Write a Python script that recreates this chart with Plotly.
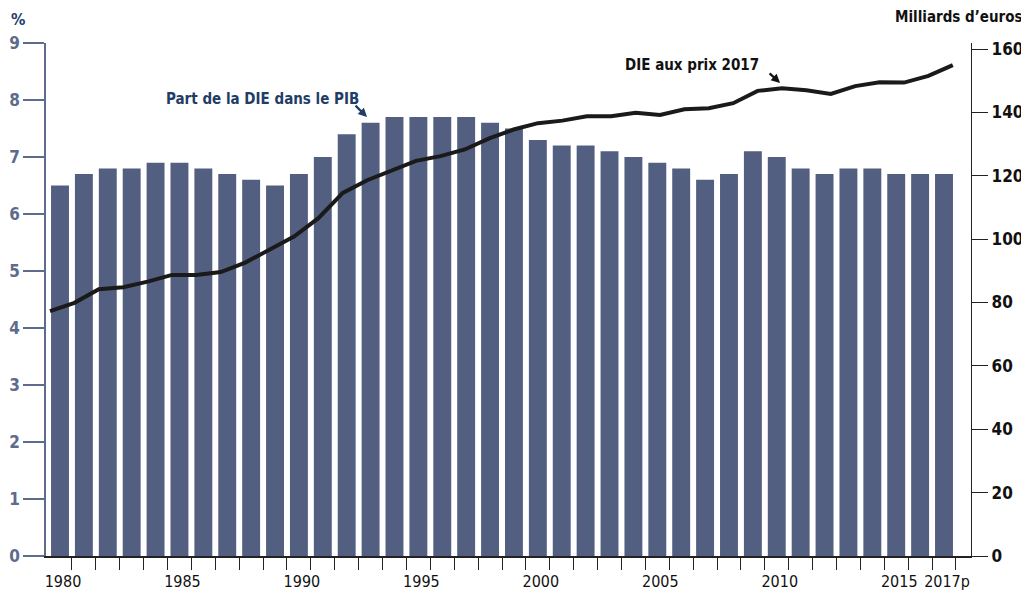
import plotly.graph_objects as go

years = list(range(1980, 2018))
part_pib = [6.5, 6.7, 6.8, 6.8, 6.9, 6.9, 6.8, 6.7, 6.6, 6.5,
            6.7, 7.0, 7.4, 7.6, 7.7, 7.7, 7.7, 7.7, 7.6, 7.5,
            7.3, 7.2, 7.2, 7.1, 7.0, 6.9, 6.8, 6.6, 6.7, 7.1,
            7.0, 6.8, 6.7, 6.8, 6.8, 6.7, 6.7, 6.7]
die_prix_2017 = [77.3, 79.9, 84.2, 84.8, 86.6, 88.7, 88.7, 89.6, 92.6, 96.6,
                 100.8, 106.6, 114.6, 118.6, 121.8, 124.7, 126.2, 128.3, 131.8, 134.6,
                 136.6, 137.4, 138.8, 138.8, 139.9, 139.2, 141.0, 141.3, 142.9, 146.8,
                 147.6, 147.0, 145.8, 148.3, 149.5, 149.4, 151.5, 154.9]
x_tickvals = [1980, 1985, 1990, 1995, 2000, 2005, 2010, 2015, 2017]
x_ticktext = ["1980", "1985", "1990", "1995", "2000", "2005", "2010", "2015", "2017p"]
left_ticks = list(range(0, 10))
right_ticks = list(range(0, 161, 20))

FONT = "DejaVu Sans Condensed, Liberation Sans Narrow, Roboto, sans-serif"
BAR = "#535f80"
SLATE = "#5d6b8c"
NAVY = "#1f3d66"

fig = go.Figure()
fig.add_trace(go.Bar(x=years, y=part_pib, marker=dict(color=BAR, line=dict(width=0)),
                     width=0.75, xaxis="x", yaxis="y", name="Part de la DIE dans le PIB"))
fig.add_trace(go.Scatter(x=years, y=die_prix_2017, mode="lines",
                         line=dict(color="#1a1a1a", width=4),
                         xaxis="x2", yaxis="y2", name="DIE aux prix 2017"))

# page body has an 8px default margin: figure is sized/placed to compensate
fig.update_layout(
    width=1021, height=583,
    margin=dict(l=38, r=58, t=35, b=35),
    paper_bgcolor="white", plot_bgcolor="white",
    showlegend=False,
    font=dict(family=FONT, size=16, color="black"),
    xaxis=dict(range=[1979.414, 2018.13], tickmode="array", tickvals=x_tickvals,
               ticktext=x_ticktext, ticks="", showgrid=False, zeroline=False,
               showline=True, linecolor="#222222", linewidth=1.5, tickangle=0,
               automargin=False,
               tickfont=dict(family=FONT, size=16, color="#111111"),
               ticklabelstandoff=10, ticklabelshift=3,
               minor=dict(tickmode="array", tickvals=[y + 0.5 for y in years],
                          ticks="outside", ticklen=12, tickcolor="#222222", tickwidth=1.2)),
    xaxis2=dict(range=[1979.836, 2017.746], overlaying="x", anchor="y", visible=False,
                showgrid=False, zeroline=False, automargin=False),
    yaxis=dict(range=[0, 9], tickmode="array", tickvals=left_ticks, ticks="outside",
               ticklen=21, tickcolor=SLATE, tickwidth=1.5, showline=True,
               linecolor=SLATE, linewidth=1.5, showgrid=False, zeroline=False,
               automargin=False,
               tickfont=dict(family=FONT, size=17, color=SLATE, weight="bold")),
    yaxis2=dict(range=[0, 161.9], tickmode="array", tickvals=right_ticks, overlaying="y",
                anchor="x", side="right", ticks="outside", ticklen=16, tickcolor="#222222",
                tickwidth=1.2, showline=True, linecolor="#222222", linewidth=1.2,
                showgrid=False, zeroline=False, automargin=False,
                tickfont=dict(family=FONT, size=17, color="#111111", weight="bold")),
    bargap=0.25,
)

annotations = [
    dict(text="%", xref="paper", yref="paper", x=(18 - 46) / 925, y=(556 - 19) / 513,
         showarrow=False, xanchor="center", yanchor="middle",
         font=dict(family=FONT, size=16, color=NAVY, weight="bold")),
    dict(text="Milliards d’euros", xref="paper", yref="paper", x=(1025 - 46) / 925,
         y=(556 - 17) / 513, showarrow=False, xanchor="right", yanchor="middle",
         font=dict(family=FONT, size=15, color="#111111", weight="bold")),
    dict(text="Part de la DIE dans le PIB", xref="x", yref="y", x=1992.6, y=8.02,
         showarrow=False, xanchor="right", yanchor="middle",
         font=dict(family=FONT, size=15, color=NAVY, weight="bold")),
    dict(text="", xref="x", yref="y", x=1992.85, y=7.7, ax=-13, ay=-13,
         showarrow=True, arrowhead=2, arrowsize=0.8, arrowwidth=2.2, arrowcolor=NAVY,
         standoff=0),
    dict(text="DIE aux prix 2017", xref="x", yref="y", x=2009.35, y=(556 - 65) / 57,
         showarrow=False, xanchor="right", yanchor="middle",
         font=dict(family=FONT, size=15, color="#111111", weight="bold")),
    dict(text="", xref="x", yref="y", x=2010.14, y=(556 - 83) / 57, ax=-12, ay=-11,
         showarrow=True, arrowhead=2, arrowsize=0.8, arrowwidth=2.2, arrowcolor="#111111",
         standoff=0),
]
fig.update_layout(annotations=annotations)

fig.write_html("out.html")
